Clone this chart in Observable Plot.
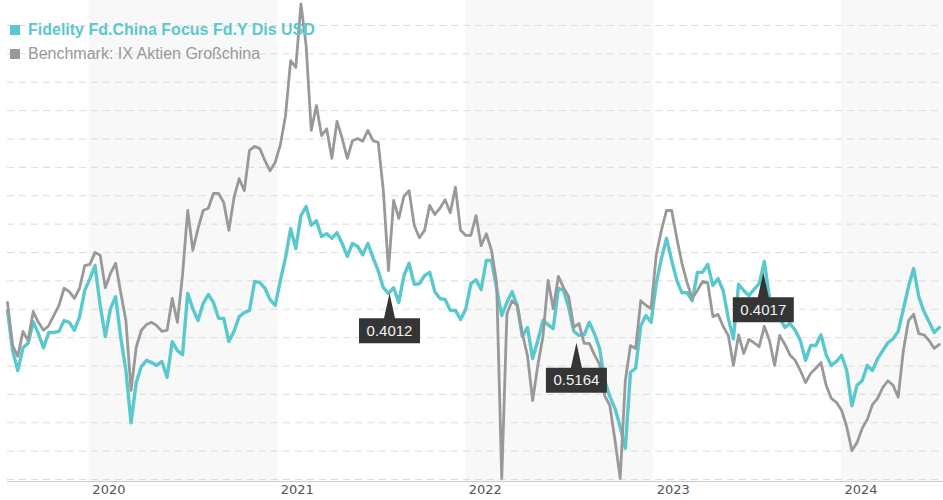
<!DOCTYPE html>
<html>
<head>
<meta charset="utf-8">
<script src="https://cdn.jsdelivr.net/npm/d3@7"></script>
<script src="https://cdn.jsdelivr.net/npm/@observablehq/plot@0.6"></script>
<style>
  body { margin: 0; background: #fff; }
  #chart { width: 943px; height: 500px; }
</style>
</head>
<body>
<div id="chart"></div>
<script>
// ---- data ----
const seriesNames = ["Fidelity Fd.China Focus Fd.Y Dis USD", "Benchmark: IX Aktien Großchina"];
const seriesColors = ["#5bc8cd", "#999999"];

// sampled every 10 days starting 2019-07-26 (indexed, arbitrary units)
const startDate = "2019-07-26";
const endDate = "2024-07-17";
const stepDays = 10;

const fund = [
  99.8, 92.7, 89.2, 93.2, 94.0, 97.8, 95.7, 93.2, 95.9, 95.9,
  96.1, 98.0, 97.7, 96.3, 98.7, 103.3, 105.4, 107.7, 100.7, 95.2,
  100.1, 102.2, 95.0, 89.2, 80.0, 87.1, 89.9, 91.0, 90.6, 90.1,
  90.8, 88.0, 94.3, 92.7, 92.0, 102.8, 100.1, 98.0, 101.0, 102.6,
  101.2, 98.4, 98.4, 94.3, 96.1, 98.7, 99.4, 99.8, 104.9, 104.7,
  103.7, 101.7, 100.7, 105.1, 109.1, 114.2, 110.7, 116.5, 118.1, 114.8,
  115.6, 112.8, 113.3, 112.5, 113.5, 111.6, 109.3, 111.6, 111.1, 109.6,
  111.6, 109.1, 106.8, 103.8, 102.8, 103.8, 101.2, 105.9, 108.1, 104.4,
  104.5, 105.9, 106.5, 103.1, 101.9, 101.7, 99.8, 99.8, 98.2, 100.0,
  104.5, 105.2, 103.5, 108.6, 108.6, 103.7, 98.9, 101.2, 103.1, 100.7,
  95.2, 96.8, 91.3, 94.5, 98.0, 97.3, 96.6, 103.7, 103.3, 100.3,
  96.1, 95.4, 95.5, 97.7, 95.7, 93.1, 87.4, 84.6, 82.5, 79.3,
  75.5, 88.9, 89.6, 97.1, 98.9, 97.7, 104.5, 108.9, 112.5, 108.6,
  105.1, 102.9, 102.9, 101.5, 106.5, 106.5, 107.9, 104.2, 105.4, 103.3,
  98.4, 94.8, 104.4, 103.3, 102.4, 103.5, 104.5, 108.4, 101.9, 98.0,
  98.4, 96.8, 97.5, 96.3, 94.5, 91.0, 93.6, 93.6, 95.5, 92.0,
  90.1, 90.8, 91.9, 89.2, 83.0, 86.6, 87.4, 90.1, 89.2, 91.3,
  92.7, 94.1, 94.8, 96.1, 100.0, 104.0, 107.2, 102.2, 99.6, 97.8,
  95.9, 96.8
];

const bench = [
  101.2, 93.6, 91.7, 96.1, 94.5, 99.6, 97.7, 96.3, 97.1, 98.9,
  100.7, 103.7, 103.1, 101.9, 103.7, 107.7, 107.9, 110.0, 109.5, 103.8,
  106.3, 108.1, 102.9, 98.0, 85.7, 93.3, 96.3, 97.3, 97.7, 97.1,
  96.1, 96.3, 101.9, 97.7, 106.1, 117.4, 110.4, 114.2, 117.4, 117.8,
  120.4, 120.4, 118.8, 113.9, 119.7, 123.0, 120.9, 128.0, 128.7, 128.3,
  126.2, 124.4, 125.9, 129.0, 134.1, 143.8, 142.6, 153.8, 146.5, 131.5,
  135.9, 130.6, 131.8, 126.6, 133.1, 130.1, 126.6, 129.7, 130.1, 129.6,
  131.5, 129.7, 129.4, 120.9, 106.8, 119.2, 116.0, 119.9, 120.9, 114.8,
  112.6, 113.9, 118.3, 116.7, 117.8, 119.3, 117.0, 121.5, 113.9, 113.0,
  113.0, 116.5, 111.2, 113.3, 110.4, 104.7, 70.2, 99.2, 101.5, 100.7,
  95.7, 91.8, 83.9, 90.1, 95.2, 105.1, 100.1, 105.8, 103.8, 102.2,
  96.8, 97.5, 94.0, 94.0, 92.0, 90.3, 84.8, 83.0, 76.9, 70.2,
  87.4, 93.6, 93.1, 101.5, 100.7, 100.1, 109.5, 113.9, 117.4, 117.4,
  112.5, 108.1, 104.7, 101.9, 103.3, 104.9, 104.7, 98.7, 99.1, 97.0,
  95.4, 90.1, 95.5, 92.2, 94.7, 94.1, 93.4, 97.0, 94.5, 90.1,
  95.4, 93.8, 91.9, 91.0, 89.2, 87.1, 88.7, 89.6, 90.6, 86.6,
  84.3, 83.6, 82.2, 79.3, 75.1, 76.5, 79.0, 80.6, 83.2, 84.3,
  86.2, 87.4, 86.6, 84.5, 92.7, 98.0, 99.1, 95.7, 95.5, 94.5,
  93.1, 93.8
];

// flag annotations
const flagDates = ["2021-08-06", "2022-08-04", "2023-08-02"];
const flagValues = [102.8, 94.1, 106.5];
const flagLabels = ["0.4012", "0.5164", "0.4017"];

// axis / grid
const tickYears = [2020, 2021, 2022, 2023, 2024];
const shadedYears = [2020, 2022, 2024];
const gridValues = [70, 75, 80, 85, 90, 95, 100, 105, 110, 115, 120, 125, 130, 135, 140, 145, 150];
const yDomain = [69.65, 154.4];

// ---- build tables ----
const xStart = new Date(startDate + "T00:00:00Z");
const xEnd = new Date(endDate + "T00:00:00Z");
const data = fund.map((v, i) => ({
  date: d3.utcDay.offset(xStart, stepDays * i),
  fund: v,
  bench: bench[i]
}));
const flags = flagDates.map((d, i) => ({
  date: new Date(d + "T00:00:00Z"),
  value: flagValues[i],
  label: flagLabels[i]
}));
const bands = shadedYears.map(y => ({
  x1: new Date(Date.UTC(y, 0, 1)),
  x2: new Date(Math.min(Date.UTC(y + 1, 0, 1), +xEnd))
}));
const yearTicks = tickYears.map(y => new Date(Date.UTC(y, 0, 1)));

// flag shape: pointer triangle + box below the anchor
const flagSymbol = {
  draw(context) {
    context.moveTo(0, 0);
    context.lineTo(5.5, 25);
    context.lineTo(-5.5, 25);
    context.closePath();
    context.moveTo(-30.5, 25);
    context.lineTo(30.5, 25);
    context.lineTo(30.5, 50);
    context.lineTo(-30.5, 50);
    context.closePath();
  }
};

const chart = Plot.plot({
  width: 943,
  height: 500,
  marginLeft: 7,
  marginRight: 0,
  marginTop: 0,
  marginBottom: 19,
  style: { fontFamily: "DejaVu Sans, Verdana, sans-serif", background: "#fff", overflow: "visible" },
  x: { type: "utc", domain: [xStart, xEnd] },
  y: { domain: yDomain, axis: null },
  marks: [
    Plot.rect(bands, { x1: "x1", x2: "x2", fill: "#f8f8f8" }),
    Plot.ruleY(gridValues, { stroke: "#dcdcdc", strokeDasharray: "7,5" }),
    Plot.ruleY([yDomain[0]], { stroke: "#cccccc" }),
    Plot.lineY(data, { x: "date", y: "fund", stroke: seriesColors[0], strokeWidth: 3.4 }),
    Plot.lineY(data, { x: "date", y: "bench", stroke: seriesColors[1], strokeWidth: 2.8 }),
    Plot.dot(flags, { x: "date", y: "value", symbol: flagSymbol, r: 10, fill: "#353535", stroke: null }),
    Plot.text(flags, { x: "date", y: "value", text: "label", dy: 37.5, fill: "#f2f2f2", fontSize: 15, fontFamily: "Liberation Sans, Arial, sans-serif" }),
    Plot.axisX({ ticks: yearTicks, tickFormat: "%Y", tickSize: 0, tickPadding: 3, textAnchor: "start", dx: 3, fontSize: 13, fill: "#555" })
  ]
});

// legend (top-left, over the plot)
const svg = d3.select(chart);
const lg = svg.append("g")
  .attr("font-family", "Liberation Sans, Arial, sans-serif")
  .attr("font-size", 16)
  .attr("text-anchor", "start");
seriesNames.forEach((name, i) => {
  const top = 25 + i * 24;
  lg.append("rect").attr("x", 10).attr("y", top).attr("width", 10).attr("height", 10).attr("fill", seriesColors[i]);
  lg.append("text").attr("x", 28).attr("y", top + 10)
    .attr("fill", seriesColors[i])
    .attr("font-weight", i === 0 ? "bold" : "normal")
    .attr("text-anchor", "start")
    .text(name);
});

document.getElementById("chart").appendChild(chart);
</script>
</body>
</html>
